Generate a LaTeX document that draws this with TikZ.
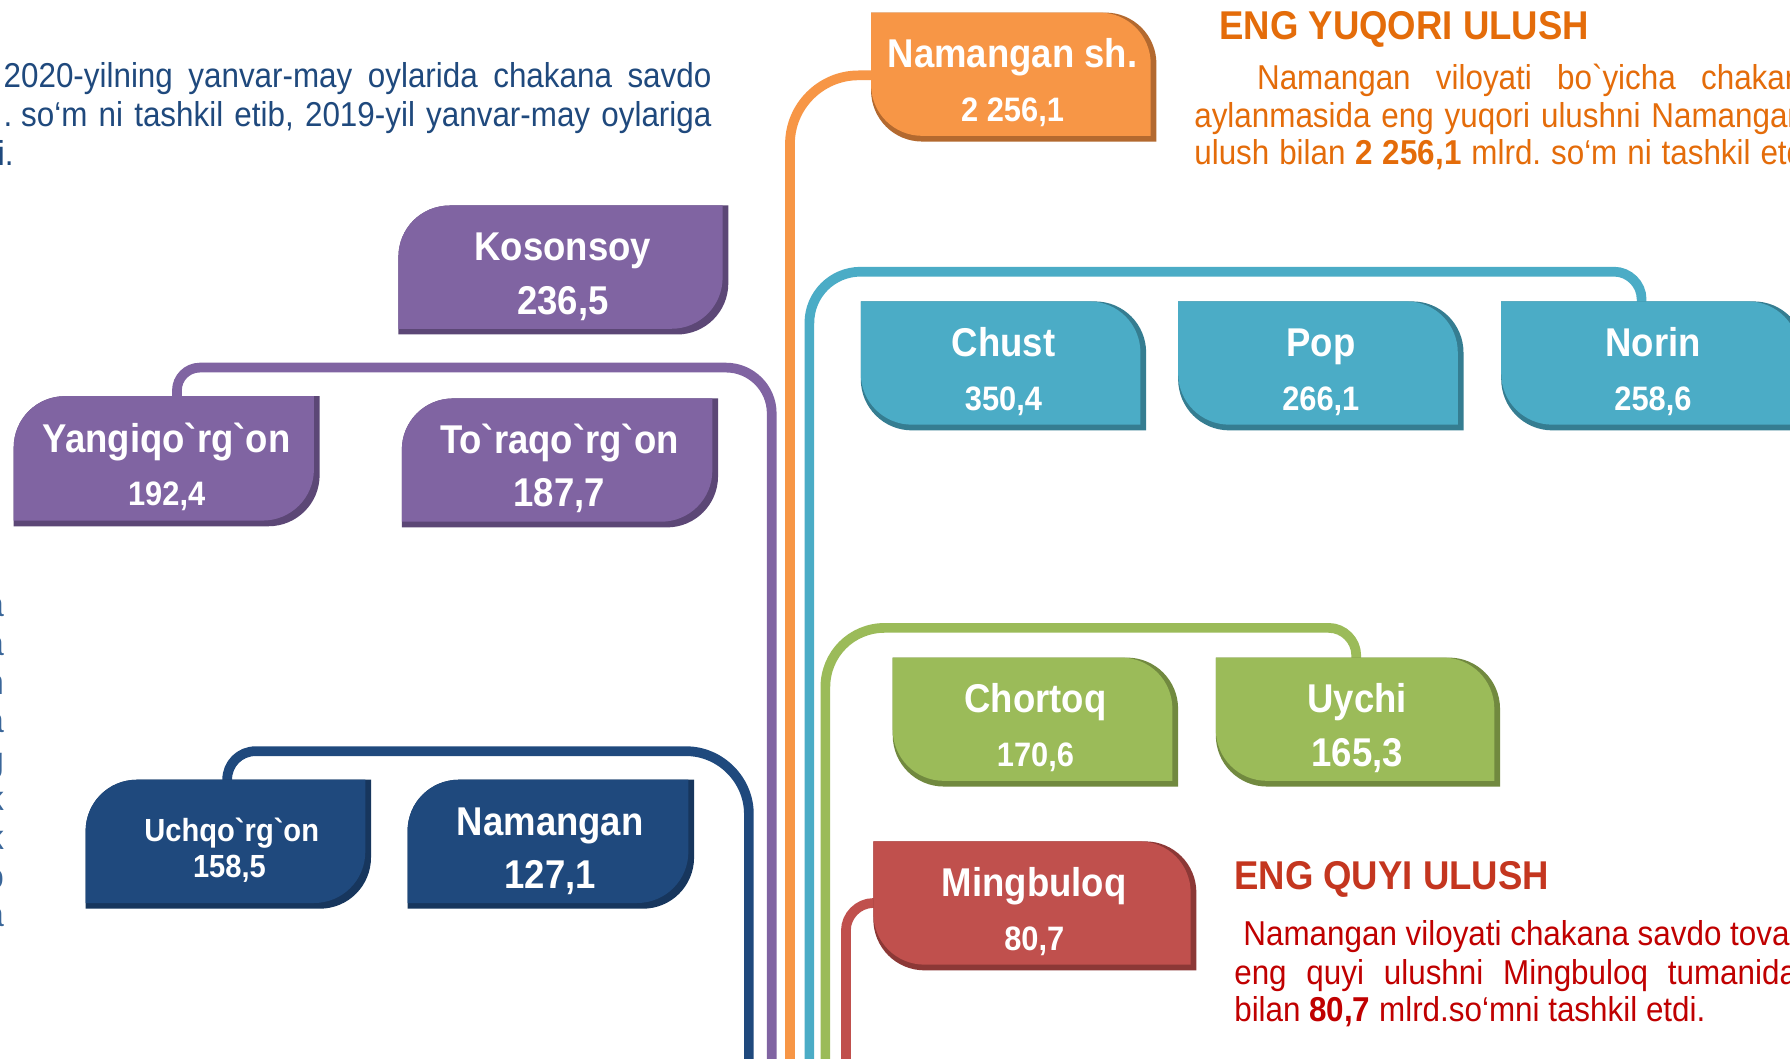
\documentclass[tikz,border=0pt]{standalone}
\usepackage{fontspec}
\usepackage{graphicx}
\newfontfamily\lib{Liberation Sans}
\frenchspacing
\definecolor{pFill}{HTML}{8064A2}\definecolor{pShad}{HTML}{5C4776}
\definecolor{oFill}{HTML}{F79646}\definecolor{oShad}{HTML}{B3692F}
\definecolor{cFill}{HTML}{4BACC6}\definecolor{cShad}{HTML}{357D91}
\definecolor{gFill}{HTML}{9BBB59}\definecolor{gShad}{HTML}{71893F}
\definecolor{rFill}{HTML}{C0504D}\definecolor{rShad}{HTML}{8C3836}
\definecolor{nFill}{HTML}{1F497D}\definecolor{nShad}{HTML}{17365D}
\definecolor{blueTxt}{HTML}{1F497D}
\definecolor{edgeTxt}{HTML}{3A6699}
\definecolor{orTxt}{HTML}{E46C0A}
\definecolor{redTitle}{HTML}{C4361F}
\definecolor{redTxt}{HTML}{C00000}
\newcommand{\vs}[1]{\scalebox{1}[1.1]{#1}}
\newcommand{\fsA}{\fontsize{32}{36}\selectfont}
\newcommand{\fsB}{\fontsize{27}{32}\selectfont}
\newcommand{\fsC}{\fontsize{25.5}{30}\selectfont}
\newcommand{\fsP}{\fontsize{27.5}{34}\selectfont}
\newcommand{\gv}{\char"60\relax}
% shape A: rounded top-left and bottom-right
\newcommand{\shpA}[5]{\fill[#5] (#1,#2+45) .. controls (#1,#2+20) and (#1+20,#2) .. (#1+45,#2) -- (#3,#2) -- (#3,#4-45) .. controls (#3,#4-20) and (#3-20,#4) .. (#3-45,#4) -- (#1,#4) -- cycle;}
% shape B: rounded top-right and bottom-left
\newcommand{\shpB}[5]{\fill[#5] (#1,#2) -- (#3-45,#2) .. controls (#3-20,#2) and (#3,#2+20) .. (#3,#2+45) -- (#3,#4) -- (#1+45,#4) .. controls (#1+20,#4) and (#1,#4-20) .. (#1,#4-45) -- cycle;}
\newcommand{\boxA}[6]{\shpA{#1}{#2}{#3}{#4}{#6}\shpA{#1}{#2}{#3-5}{#4-5}{#5}}
\newcommand{\boxB}[6]{\shpB{#1}{#2}{#3}{#4}{#6}\shpB{#1}{#2}{#3-5}{#4-5}{#5}}
\tikzset{
  conn/.style={line width=8.5pt, line cap=butt},
  boxtxt/.style={text=white, font=\lib\bfseries, inner sep=0pt, anchor=base},
  para/.style={inner sep=0pt, anchor=base west, font=\lib},
  edgeletter/.style={inner sep=0pt, anchor=base east, font=\lib, text=edgeTxt},
}
\begin{document}
\begin{tikzpicture}[x=1pt,y=-1pt]
\useasboundingbox (0,0) rectangle (1568,927);
\clip (0,0) rectangle (1568,927);
\fill[white] (0,0) rectangle (1568,927);

% connector end points
\coordinate (yangTop) at (155,352);
\coordinate (purpleEnd) at (676,940);
\coordinate (namshLeft) at (768,66);
\coordinate (orangeEnd) at (692,940);
\coordinate (norinTop) at (1438,268);
\coordinate (cyanEnd) at (709,940);
\coordinate (uychiTop) at (1188,580);
\coordinate (greenEnd) at (723,940);
\coordinate (mingLeft) at (770,791);
\coordinate (redEnd) at (741,940);
\coordinate (uchTop) at (199,688);
\coordinate (navyEnd) at (656,940);

% connectors
\draw[conn, pFill] (yangTop) -- (155,342) .. controls (155,331) and (164,322) .. (175,322) -- (636,322) .. controls (658,322) and (676,340) .. (676,362) -- (purpleEnd);
\draw[conn, oFill] (namshLeft) -- (752,66) .. controls (719,66) and (692,93) .. (692,126) -- (orangeEnd);
\draw[conn, cFill] (norinTop) -- (1438,262) .. controls (1438,249) and (1427,238) .. (1414,238) -- (754,238) .. controls (729,238) and (709,258) .. (709,283) -- (cyanEnd);
\draw[conn, gFill] (uychiTop) -- (1188,574) .. controls (1188,561) and (1177,550) .. (1164,550) -- (775,550) .. controls (746,550) and (723,573) .. (723,602) -- (greenEnd);
\draw[conn, rFill] (mingLeft) -- (765,791) .. controls (752,791) and (741,802) .. (741,815) -- (redEnd);
\draw[conn, nFill] (uchTop) -- (199,683) .. controls (199,669) and (210,658) .. (224,658) -- (601,658) .. controls (631,658) and (656,683) .. (656,713) -- (navyEnd);

% boxes
\boxA{349}{180}{638}{293}{pFill}{pShad}
\boxA{12}{347}{280}{461}{pFill}{pShad}
\boxA{352}{349}{629}{462}{pFill}{pShad}
\boxA{75}{683}{325}{796}{nFill}{nShad}
\boxA{357}{683}{608}{796}{nFill}{nShad}
\boxB{763}{11}{1013}{124}{oFill}{oShad}
\boxB{754}{264}{1004}{377}{cFill}{cShad}
\boxB{1032}{264}{1282}{377}{cFill}{cShad}
\boxB{1315}{264}{1581}{377}{cFill}{cShad}
\boxB{782}{576}{1032}{689}{gFill}{gShad}
\boxB{1065}{576}{1314}{689}{gFill}{gShad}
\boxB{765}{737}{1048}{850}{rFill}{rShad}

% box texts
\node[boxtxt] (kosN) at (493,228.5) {\fsA\vs{Kosonsoy}};
\node[boxtxt] (kosV) at (493,275.5) {\fsA\vs{236,5}};
\node[boxtxt] (yanN) at (146,396.5) {\fsA\vs{Yangiqo\gv rg\gv on}};
\node[boxtxt] (yanV) at (146,442.5) {\fsB\vs{192,4}};
\node[boxtxt] (torN) at (490,397.5) {\fsA\vs{To\gv raqo\gv rg\gv on}};
\node[boxtxt] (torV) at (490,443.5) {\fsA\vs{187,7}};
\node[boxtxt] (nshN) at (887,59.5) {\fsA\vs{Namangan sh.}};
\node[boxtxt] (nshV) at (887,106.5) {\fsB\vs{2 256,1}};
\node[boxtxt] (chuN) at (879,312.5) {\fsA\vs{Chust}};
\node[boxtxt] (chuV) at (879,359.5) {\fsB\vs{350,4}};
\node[boxtxt] (popN) at (1157,312.5) {\fsA\vs{Pop}};
\node[boxtxt] (popV) at (1157,359.5) {\fsB\vs{266,1}};
\node[boxtxt] (norN) at (1448,312.5) {\fsA\vs{Norin}};
\node[boxtxt] (norV) at (1448,359.5) {\fsB\vs{258,6}};
\node[boxtxt] (choN) at (907,624.5) {\fsA\vs{Chortoq}};
\node[boxtxt] (choV) at (907,671.5) {\fsB\vs{170,6}};
\node[boxtxt] (uycN) at (1189,624.5) {\fsA\vs{Uychi}};
\node[boxtxt] (uycV) at (1189,671.5) {\fsA\vs{165,3}};
\node[boxtxt] (minN) at (906,785.5) {\fsA\vs{Mingbuloq}};
\node[boxtxt] (minV) at (906,832.5) {\fsB\vs{80,7}};
\node[boxtxt] (uchN) at (203,737) {\fsC\vs{Uchqo\gv rg\gv on}};
\node[boxtxt] (uchV) at (201,769) {\fsC\vs{158,5}};
\node[boxtxt] (namN) at (482,731.5) {\fsA\vs{Namangan}};
\node[boxtxt] (namV) at (482,778.5) {\fsA\vs{127,1}};

% top-left paragraph
\node[para, text=blueTxt] (bl1) at (3,77) {\fsP\vs{\makebox[620pt][s]{2020-yilning yanvar-may oylarida chakana savdo}}};
\node[para, text=blueTxt] (bl2) at (3,111) {\fsP\vs{\makebox[620pt][s]{.\kern0.28em so‘m ni tashkil etib, 2019-yil yanvar-may oylariga}}};
\node[para, text=blueTxt] (bl3) at (-2,145) {\fsP\vs{i.}};

% clipped letters at the left edge
\node[edgeletter] (e1) at (3.5,540) {\fsP\vs{a}};
\node[edgeletter] (e2) at (3.5,574) {\fsP\vs{a}};
\node[edgeletter] (e3) at (3.5,608) {\fsP\vs{n}};
\node[edgeletter] (e4) at (3.5,642) {\fsP\vs{a}};
\node[edgeletter] (e5) at (3.5,676) {\fsP\vs{g}};
\node[edgeletter] (e6) at (3.5,710) {\fsP\vs{k}};
\node[edgeletter] (e7) at (3.5,744) {\fsP\vs{k}};
\node[edgeletter] (e8) at (3.5,778) {\fsP\vs{o}};
\node[edgeletter] (e9) at (3.5,812) {\fsP\vs{a}};

% highest share
\node[para, text=orTxt, font=\lib\bfseries] (engY) at (1068,35) {\fsA\vs{ENG YUQORI ULUSH}};
\node[para, text=orTxt] (or1) at (1101,78) {\fsP\vs{\makebox[493pt][s]{Namangan viloyati bo\gv yicha chakana}}};
\node[para, text=orTxt] (or2) at (1046,112) {\fsP\vs{\makebox[535pt][s]{aylanmasida eng yuqori ulushni Namangan}}};
\node[para, text=orTxt] (or3) at (1046,144) {\fsP\vs{\makebox[548pt][s]{ulush bilan \textbf{2 256,1} mlrd. so‘m ni tashkil etdi.}}};

% lowest share
\node[para, text=redTitle, font=\lib\bfseries] (engQ) at (1081,779) {\fsA\vs{ENG QUYI ULUSH}};
\node[para, text=redTxt] (rd1) at (1089,828) {\fsP\vs{Namangan viloyati chakana savdo tovar}};
\node[para, text=redTxt] (rd2) at (1081,862) {\fsP\vs{\makebox[493pt][s]{eng quyi ulushni Mingbuloq tumanida}}};
\node[para, text=redTxt] (rd3) at (1081,895) {\fsP\vs{bilan \textbf{80,7} mlrd.so‘mni tashkil etdi.}};
\end{tikzpicture}
\end{document}
